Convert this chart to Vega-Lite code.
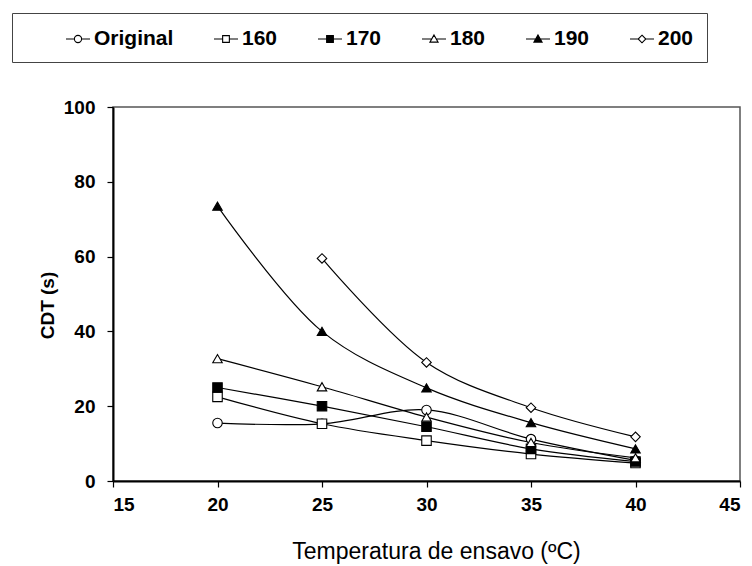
{
  "$schema": "https://vega.github.io/schema/vega-lite/v6.json",
  "width": 627,
  "height": 374,
  "autosize": "none",
  "padding": {"left": 113, "top": 107, "right": 12, "bottom": 85},
  "background": "white",
  "config": {
    "font": "Liberation Sans",
    "view": {"stroke": "#555", "strokeWidth": 1.5},
    "axis": {"grid": false, "domainColor": "black", "domainWidth": 2, "tickColor": "black", "tickWidth": 1.2, "tickSize": 6, "labelFont": "Liberation Sans", "labelFontWeight": "bold", "labelFontSize": 19, "labelColor": "black", "titleColor": "black"}
  },
  "data": {
    "values": [
      {"T": 20, "serie": "Original", "CDT": 15.5},
      {"T": 25, "serie": "Original", "CDT": 15.3},
      {"T": 30, "serie": "Original", "CDT": 19.0},
      {"T": 35, "serie": "Original", "CDT": 11.2},
      {"T": 40, "serie": "Original", "CDT": 5.5},
      {"T": 20, "serie": "160", "CDT": 22.5},
      {"T": 25, "serie": "160", "CDT": 15.3},
      {"T": 30, "serie": "160", "CDT": 10.8},
      {"T": 35, "serie": "160", "CDT": 7.2},
      {"T": 40, "serie": "160", "CDT": 4.8},
      {"T": 20, "serie": "170", "CDT": 25.0},
      {"T": 25, "serie": "170", "CDT": 20.0},
      {"T": 30, "serie": "170", "CDT": 14.5},
      {"T": 35, "serie": "170", "CDT": 8.6},
      {"T": 40, "serie": "170", "CDT": 5.2},
      {"T": 20, "serie": "180", "CDT": 32.7},
      {"T": 25, "serie": "180", "CDT": 25.2},
      {"T": 30, "serie": "180", "CDT": 17.1},
      {"T": 35, "serie": "180", "CDT": 10.3},
      {"T": 40, "serie": "180", "CDT": 6.2},
      {"T": 20, "serie": "190", "CDT": 73.5},
      {"T": 25, "serie": "190", "CDT": 40.0},
      {"T": 30, "serie": "190", "CDT": 24.9},
      {"T": 35, "serie": "190", "CDT": 15.6},
      {"T": 40, "serie": "190", "CDT": 8.6},
      {"T": 25, "serie": "200", "CDT": 59.5},
      {"T": 30, "serie": "200", "CDT": 31.7},
      {"T": 35, "serie": "200", "CDT": 19.6},
      {"T": 40, "serie": "200", "CDT": 11.8}
    ]
  },
  "encoding": {
    "x": {
      "field": "T", "type": "quantitative",
      "scale": {"domain": [15, 45], "nice": false, "zero": false},
      "axis": {"values": [15, 20, 25, 30, 35, 40, 45], "labelPadding": 8, "title": "Temperatura de ensavo (ºC)", "titleFont": "Liberation Sans", "titleFontWeight": "normal", "titleFontSize": 23, "titleX": 323, "titleY": 77, "titleAlign": "center", "titleBaseline": "alphabetic"}
    },
    "y": {
      "field": "CDT", "type": "quantitative",
      "scale": {"domain": [0, 100], "nice": false},
      "axis": {"values": [0, 20, 40, 60, 80, 100], "labelPadding": 12, "title": "CDT (s)", "titleFont": "Liberation Sans", "titleFontWeight": "bold", "titleFontSize": 19, "titleX": -66, "titleY": 198, "titleAlign": "center", "titleBaseline": "middle", "titleAngle": -90}
    }
  },
  "layer": [
    {
      "mark": {"type": "line", "interpolate": "catmull-rom", "color": "black", "strokeWidth": 1.2},
      "encoding": {"detail": {"field": "serie", "type": "nominal"}}
    },
    {
      "mark": {"type": "point", "filled": true, "stroke": "black", "strokeWidth": 1.1, "size": 90, "opacity": 1},
      "encoding": {
        "shape": {
          "field": "serie", "type": "nominal",
          "sort": ["Original", "160", "170", "180", "190", "200"],
          "scale": {"range": ["circle", "square", "square", "triangle-up", "triangle-up", "diamond"]},
          "legend": null
        },
        "fill": {
          "field": "serie", "type": "nominal",
          "scale": {"domain": ["Original", "160", "170", "180", "190", "200"], "range": ["white", "white", "black", "white", "black", "white"]},
          "legend": {
            "title": " ", "titleOrient": "left", "titlePadding": 40, "titleFontSize": 10,
            "orient": "none", "legendX": -101, "legendY": -94,
            "direction": "horizontal", "columns": 6, "columnPadding": 37,
            "padding": 13, "strokeColor": "#444", "fillColor": "white",
            "labelFont": "Liberation Sans", "labelFontWeight": "bold", "labelFontSize": 21, "labelColor": "black", "labelOffset": 3,
            "symbolSize": 576, "symbolStrokeColor": "black", "symbolStrokeWidth": 1.1,
            "symbolType": {"expr": "datum.value == 'Original' ? 'M-1,0H-0.3M0.3,0H1M0.3,0A0.3,0.3,0,1,1,-0.3,0A0.3,0.3,0,1,1,0.3,0Z' : (datum.value == '160' || datum.value == '170') ? 'M-1,0H-0.28M0.28,0H1M-0.28,-0.28H0.28V0.28H-0.28Z' : (datum.value == '200') ? 'M-1,0H-0.32M0.32,0H1M0,-0.32L0.32,0L0,0.32L-0.32,0Z' : 'M-1,0H-0.18M0.18,0H1M0,-0.34L0.34,0.26L-0.34,0.26Z'"},
            "encode": {
              "legend": {"strokeWidth": {"value": 2}},
              "symbols": {
                "stroke": {"value": "black"},
                "strokeWidth": {"value": 1.1}
              }
            }
          }
        }
      }
    }
  ]
}
